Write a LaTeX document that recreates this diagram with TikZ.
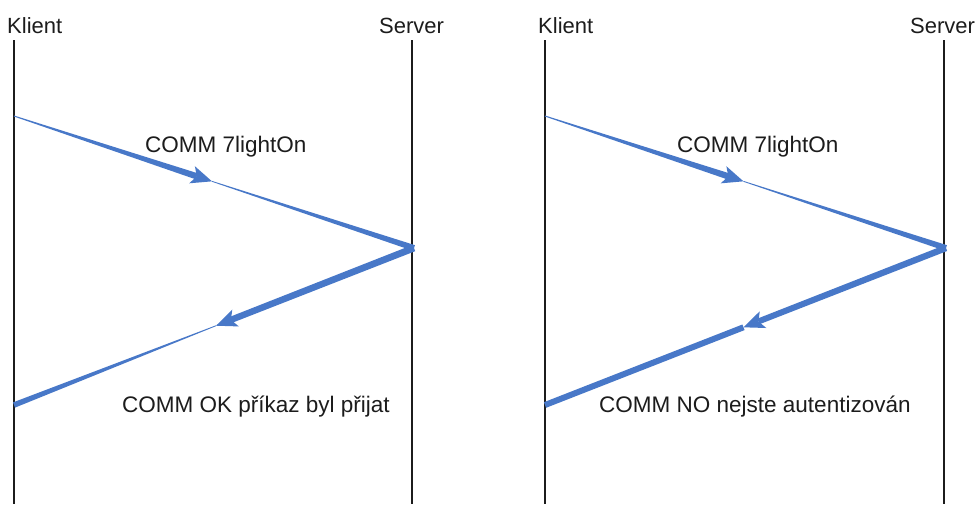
\documentclass[tikz,border=0pt]{standalone}
\usepackage{fontspec}
\setmainfont{Liberation Sans}
\usetikzlibrary{calc}
\definecolor{msgblue}{RGB}{72,120,200}
\definecolor{ink}{RGB}{28,28,28}

% tapered message stroke: from, to, half width at from, half width at to
\newcommand\taperseg[4]{%
  \fill[msgblue] ($(#1)!#3!90:(#2)$) -- ($(#2)!#4!-90:(#1)$)
    -- ($(#2)!#4!90:(#1)$) -- ($(#1)!#3!-90:(#2)$) -- cycle;}
% arrow head: tip, point it comes from
\newcommand\msghead[2]{%
  \coordinate (hb) at ($(#1)!21pt!(#2)$);
  \fill[msgblue] (#1) -- ($(hb)!9pt!90:(#1)$) -- ($(#1)!16pt!(#2)$)
    -- ($(hb)!9pt!-90:(#1)$) -- cycle;}

\tikzset{
  lifeline/.style={draw=ink, line width=1.3pt},
  actor/.style={anchor=base west, inner sep=0pt, text=ink,
    font=\fontsize{22}{26}\selectfont},
  msglabel/.style={anchor=base west, inner sep=0pt, text=ink,
    font=\fontsize{22.5}{26}\selectfont}
}

\begin{document}
\begin{tikzpicture}[x=1pt, y=-1pt]
\useasboundingbox (0,0) rectangle (976,504);

% ---------- left: accepted command ----------
\node[actor] (kl1) at (7,33) {Klient};
\node[actor] (sv1) at (379,33) {Server};
\coordinate (kl1top) at (14,40);  \coordinate (kl1bot) at (14,504);
\coordinate (sv1top) at (412,40); \coordinate (sv1bot) at (412,504);
\draw[lifeline] (kl1top) -- (kl1bot);
\draw[lifeline] (sv1top) -- (sv1bot);

\coordinate (a1s) at (14,116);
\coordinate (a1e) at (414,248);
\coordinate (a1t) at ($(a1s)!0.495!(a1e)$);
\coordinate (a1n) at ($(a1t)!16pt!(a1s)$);
\taperseg{a1s}{a1n}{0.5pt}{3.2pt}
\taperseg{a1t}{a1e}{0.4pt}{3pt}
\msghead{a1t}{a1s}

\coordinate (b1e) at (14,405);
\coordinate (b1t) at ($(a1e)!0.495!(b1e)$);
\coordinate (b1n) at ($(b1t)!16pt!(a1e)$);
\taperseg{a1e}{b1n}{3.4pt}{3.2pt}
\taperseg{b1t}{b1e}{0.4pt}{2.8pt}
\msghead{b1t}{a1e}

\node[msglabel] (m1) at (145,152) {COMM 7lightOn};
\node[msglabel] (r1) at (122,412) {COMM OK příkaz byl přijat};

% ---------- right: rejected command ----------
\node[actor] (kl2) at (538,33) {Klient};
\node[actor] (sv2) at (910,33) {Server};
\coordinate (kl2top) at (545,40);  \coordinate (kl2bot) at (545,504);
\coordinate (sv2top) at (944,40);  \coordinate (sv2bot) at (944,504);
\draw[lifeline] (kl2top) -- (kl2bot);
\draw[lifeline] (sv2top) -- (sv2bot);

\coordinate (a2s) at (545,116);
\coordinate (a2e) at (946,248);
\coordinate (a2t) at ($(a2s)!0.495!(a2e)$);
\coordinate (a2n) at ($(a2t)!16pt!(a2s)$);
\taperseg{a2s}{a2n}{0.5pt}{3.2pt}
\taperseg{a2t}{a2e}{0.4pt}{3pt}
\msghead{a2t}{a2s}

\coordinate (b2e) at (545,405);
\coordinate (b2t) at ($(a2e)!0.505!(b2e)$);
\coordinate (b2n) at ($(b2t)!16pt!(a2e)$);
\taperseg{a2e}{b2n}{3.2pt}{3pt}
\taperseg{b2t}{b2e}{3pt}{3pt}
\msghead{b2t}{a2e}

\node[msglabel] (m2) at (677,152) {COMM 7lightOn};
\node[msglabel] (r2) at (599,412) {COMM NO nejste autentizován};
\end{tikzpicture}
\end{document}
